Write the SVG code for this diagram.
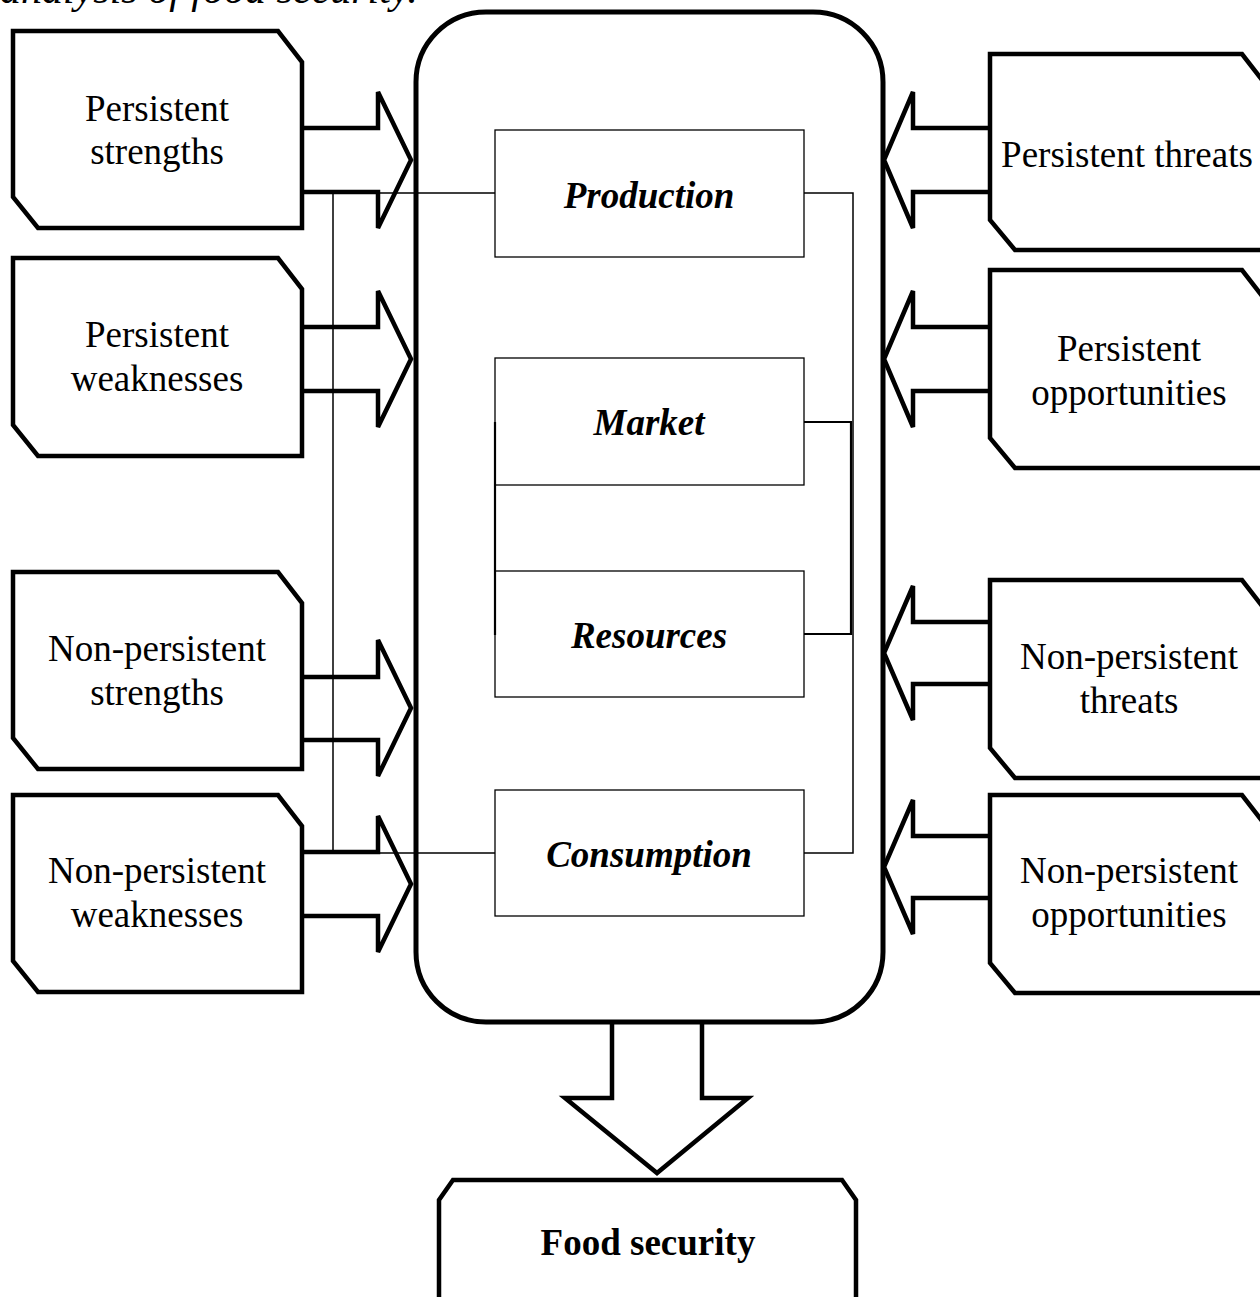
<svg xmlns="http://www.w3.org/2000/svg" width="1260" height="1297" viewBox="0 0 1260 1297">
  <style>
    .node { fill: #fff; stroke: #000; stroke-width: 4.5; stroke-linejoin: miter; }
    .frame { fill: #fff; stroke: #000; stroke-width: 5; }
    .inner { fill: #fff; stroke: #000; stroke-width: 1.3; }
    .arrow { fill: none; stroke: #000; stroke-width: 4.5; stroke-linejoin: miter; }
    .wire { fill: none; stroke: #000; stroke-width: 1.5; }
    .wire2 { fill: none; stroke: #000; stroke-width: 2.2; }
    .lbl { font-family: "Liberation Serif", "Times New Roman", serif; font-size: 37px; text-anchor: middle; fill: #000; }
    .sub { font-weight: bold; font-style: italic; }
    .bold { font-weight: bold; }
    .cap { font-family: "Liberation Serif", "Times New Roman", serif; font-size: 42px; font-style: italic; fill: #000; }
  </style>

  <!-- caption line running off the top edge -->
  <text class="cap" x="0" y="3">analysis of food security.</text>

  <!-- central system frame -->
  <g id="system">
    <rect class="frame" x="416" y="12" width="467" height="1010" rx="70" ry="70"/>
  </g>

  <!-- block arrows from the factor nodes into the frame -->
  <g id="arrows-left">
    <path class="arrow" d="M302,128 H378 V92 L411,160 L378,228 V192 H302"/>
    <path class="arrow" d="M302,327 H378 V291 L411,359 L378,427 V391 H302"/>
    <path class="arrow" d="M302,677 H378 V640 L411,708 L378,776 V740 H302"/>
    <path class="arrow" d="M302,852 H378 V816 L411,884 L378,952 V916 H302"/>
  </g>
  <g id="arrows-right">
    <path class="arrow" d="M990,128 H913 V92 L884,160 L913,228 V192 H990"/>
    <path class="arrow" d="M990,327 H913 V291 L884,359 L913,427 V391 H990"/>
    <path class="arrow" d="M990,622 H913 V586 L884,653 L913,720 V684 H990"/>
    <path class="arrow" d="M990,836 H913 V800 L884,867 L913,934 V898 H990"/>
  </g>

  <!-- left factor nodes -->
  <g id="persistent-strengths">
    <path class="node" d="M13,31 H278 L302,62 V228 H38 L13,197 Z"/>
    <text class="lbl" x="157" y="121">Persistent</text>
    <text class="lbl" x="157" y="164">strengths</text>
  </g>
  <g id="persistent-weaknesses">
    <path class="node" d="M13,258 H278 L302,289 V456 H38 L13,425 Z"/>
    <text class="lbl" x="157" y="347">Persistent</text>
    <text class="lbl" x="157" y="391">weaknesses</text>
  </g>
  <g id="nonpersistent-strengths">
    <path class="node" d="M13,572 H278 L302,603 V769 H38 L13,738 Z"/>
    <text class="lbl" x="157" y="661">Non-persistent</text>
    <text class="lbl" x="157" y="705">strengths</text>
  </g>
  <g id="nonpersistent-weaknesses">
    <path class="node" d="M13,795 H278 L302,826 V992 H38 L13,961 Z"/>
    <text class="lbl" x="157" y="883">Non-persistent</text>
    <text class="lbl" x="157" y="927">weaknesses</text>
  </g>

  <!-- right factor nodes -->
  <g id="persistent-threats">
    <path class="node" d="M990,54 H1242 L1266,85 V250 H1015 L990,220 Z"/>
    <text class="lbl" x="1127" y="167">Persistent threats</text>
  </g>
  <g id="persistent-opportunities">
    <path class="node" d="M990,270 H1242 L1266,301 V468 H1015 L990,438 Z"/>
    <text class="lbl" x="1129" y="361">Persistent</text>
    <text class="lbl" x="1129" y="405">opportunities</text>
  </g>
  <g id="nonpersistent-threats">
    <path class="node" d="M990,580 H1242 L1266,611 V778 H1015 L990,748 Z"/>
    <text class="lbl" x="1129" y="669">Non-persistent</text>
    <text class="lbl" x="1129" y="713">threats</text>
  </g>
  <g id="nonpersistent-opportunities">
    <path class="node" d="M990,795 H1242 L1266,826 V993 H1015 L990,963 Z"/>
    <text class="lbl" x="1129" y="883">Non-persistent</text>
    <text class="lbl" x="1129" y="927">opportunities</text>
  </g>

  <!-- subsystems inside the frame -->
  <g id="production">
    <rect class="inner" x="495" y="130" width="309" height="127"/>
    <text class="lbl sub" x="649" y="208">Production</text>
  </g>
  <g id="market">
    <rect class="inner" x="495" y="358" width="309" height="127"/>
    <text class="lbl sub" x="649" y="435">Market</text>
  </g>
  <g id="resources">
    <rect class="inner" x="495" y="571" width="309" height="126"/>
    <text class="lbl sub" x="649" y="648">Resources</text>
  </g>
  <g id="consumption">
    <rect class="inner" x="495" y="790" width="309" height="126"/>
    <text class="lbl sub" x="649" y="867">Consumption</text>
  </g>

  <!-- output arrow and result node -->
  <g id="output-arrow">
    <path class="arrow" d="M612,1022 V1098 H565 L657,1173 L748,1098 H702 V1022"/>
  </g>
  <g id="food-security">
    <path class="node" d="M439,1310 V1200 L453,1180 H842 L856,1200 V1310"/>
    <text class="lbl bold" x="648" y="1255">Food security</text>
  </g>

  <!-- links between subsystems -->
  <g id="connectors">
    <polyline class="wire" points="495,193 333,193 333,853 495,853"/>
    <polyline class="wire" points="804,193 853,193 853,853 804,853"/>
    <polyline class="wire2" points="804,422 851,422 851,634 804,634"/>
    <line class="wire2" x1="495" y1="422" x2="495" y2="635"/>
  </g>
</svg>
